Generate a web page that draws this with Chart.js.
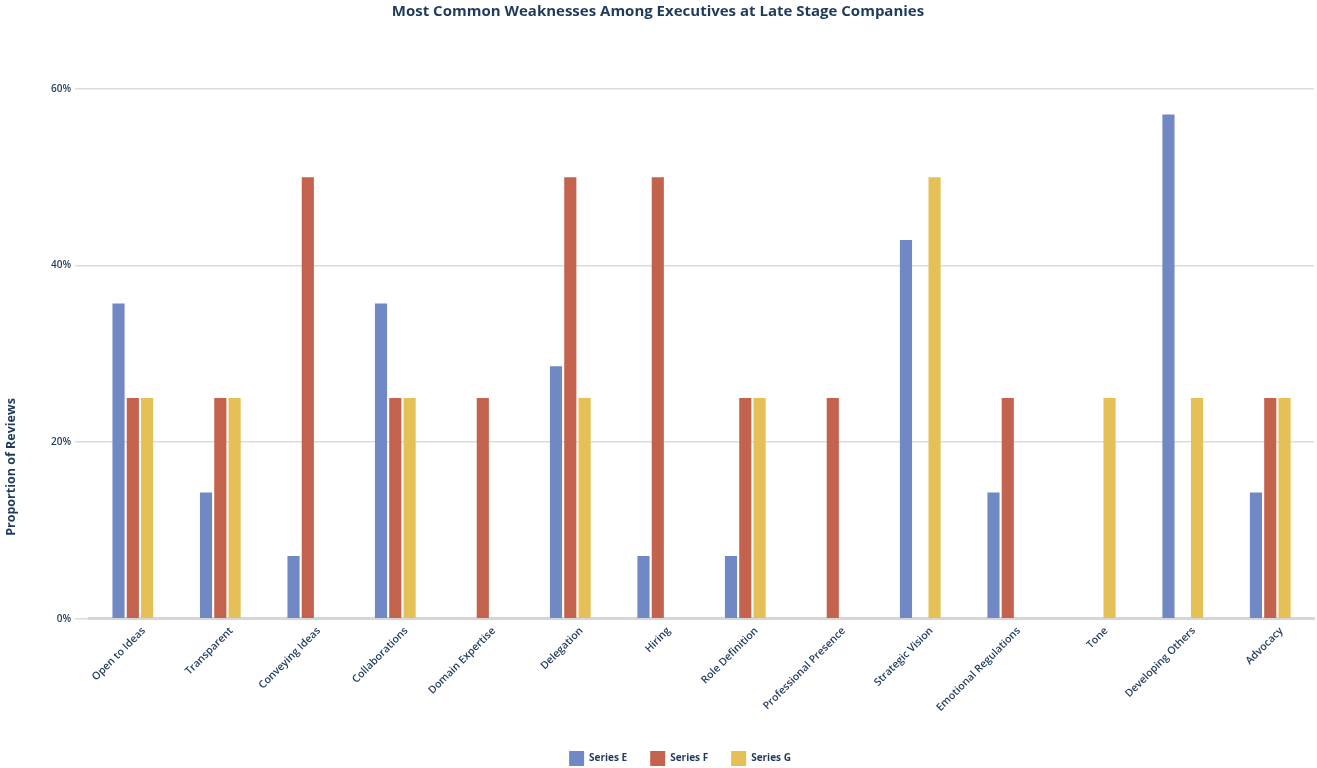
<!DOCTYPE html>
<html>
<head>
<meta charset="utf-8">
<title>Most Common Weaknesses Among Executives at Late Stage Companies</title>
<script src="https://cdn.jsdelivr.net/npm/chart.js@4/dist/chart.umd.min.js"></script>
<style>
  html, body { margin: 0; padding: 0; background: #ffffff; }
  #wrap { width: 1317px; height: 768px; position: relative; }
</style>
</head>
<body>
<div id="wrap"><canvas id="weaknessChart"></canvas></div>
<script>
// Categorias e valores (% das avaliações)
const categories = ['Open to Ideas', 'Transparent', 'Conveying Ideas', 'Collaborations', 'Domain Expertise',
  'Delegation', 'Hiring', 'Role Definition', 'Professional Presence', 'Strategic Vision',
  'Emotional Regulations', 'Tone', 'Developing Others', 'Advocacy'];
const seriesE = [35.7, 14.3, 7.1, 35.7, 0, 28.6, 7.1, 7.1, 0, 42.9, 14.3, 0, 57.1, 14.3];
const seriesF = [25, 25, 50, 25, 25, 50, 50, 25, 25, 0, 25, 0, 0, 25];
const seriesG = [25, 25, 0, 25, 0, 25, 0, 25, 0, 50, 0, 25, 25, 25];
const yTicks = [0, 20, 40, 60];
const yTitle = 'Proportion of Reviews';

const navy = '#1f3b5c';
const fontFam = "'Open Sans', sans-serif";

// desloca a legenda (direita e para baixo)
const legendShift = {
  id: 'legendShift',
  afterLayout(chart) {
    const lg = chart.legend;
    if (!lg) return;
    lg.left += 22;
    lg.right += 22;
    lg.top += 8;
    lg.bottom += 8;
    lg.adjustHitBoxes();
  }
};

// título do eixo Y desenhado à mão, mais abaixo do centro do eixo
const yTitlePlugin = {
  id: 'yTitlePlugin',
  afterDraw(chart) {
    const c = chart.ctx;
    c.save();
    c.translate(11, 467);
    c.rotate(-Math.PI / 2);
    c.fillStyle = navy;
    c.font = "bold 12.5px 'Open Sans', sans-serif";
    c.textAlign = 'center';
    c.textBaseline = 'middle';
    c.fillText(yTitle, 0, 0);
    c.restore();
  }
};

const ctx = document.getElementById('weaknessChart').getContext('2d');
new Chart(ctx, {
  type: 'bar',
  data: {
    labels: categories,
    datasets: [
      { label: 'Series E', data: seriesE, backgroundColor: '#7089c4' },
      { label: 'Series F', data: seriesF, backgroundColor: '#c4634d' },
      { label: 'Series G', data: seriesG, backgroundColor: '#e5c057' }
    ]
  },
  plugins: [legendShift, yTitlePlugin],
  options: {
    responsive: true,
    maintainAspectRatio: false,
    animation: false,
    categoryPercentage: 0.49,
    barPercentage: 0.85,
    layout: { padding: { top: 0, right: 3, bottom: 0, left: 2 } },
    plugins: {
      title: {
        display: true,
        text: 'Most Common Weaknesses Among Executives at Late Stage Companies',
        color: navy,
        font: { family: fontFam, size: 15, weight: 'bold' },
        padding: { top: 3, bottom: 68 }
      },
      legend: {
        position: 'bottom',
        labels: {
          color: navy,
          boxWidth: 15,
          boxHeight: 15,
          padding: 23,
          font: { family: fontFam, size: 10, weight: 'bold' }
        }
      },
      tooltip: { enabled: false }
    },
    scales: {
      x: {
        grid: { display: false },
        border: { color: '#d6d6d6', width: 3 },
        afterFit: axis => { axis.height += 8; },
        ticks: {
          color: navy,
          maxRotation: 45,
          minRotation: 45,
          padding: -2,
          labelOffset: 11,
          font: { family: fontFam, size: 10.5, weight: '600' }
        }
      },
      y: {
        min: 0,
        max: 60,
        afterBuildTicks: axis => { axis.ticks = yTicks.map(v => ({ value: v })); },
        afterFit: axis => { axis.width += 45; },
        grid: { color: '#dcdcdc', lineWidth: 1.5, tickLength: 14 },
        border: { display: false },
        ticks: {
          color: navy,
          padding: 4,
          font: { family: fontFam, size: 10, weight: '600' },
          callback: v => v + '%'
        }
      }
    }
  }
});
</script>
</body>
</html>
